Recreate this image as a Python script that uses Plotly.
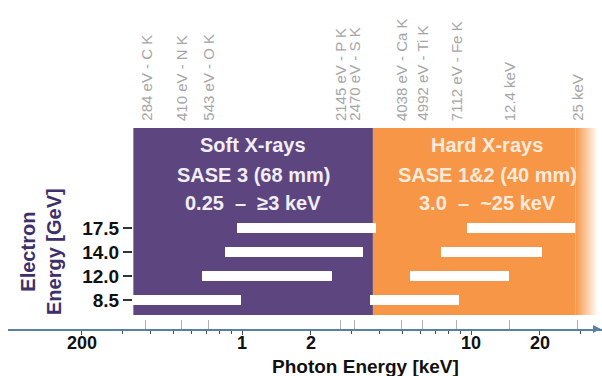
import numpy as np
import plotly.graph_objects as go

# ---------------- data ----------------
electron_energies = ["8.5", "12.0", "14.0", "17.5"]          # GeV
soft_start = [0.25, 0.51, 0.65, 0.73]                         # keV
soft_end = [0.76, 1.96, 2.7, 3.1]
hard_start = [2.9, 4.4, 6.1, 8.0]
hard_end = [7.3, 12.3, 17.3, 26.0]

soft_range = [0.25, 3.0]      # SASE 3
hard_range = [3.0, 24.5]      # SASE 1&2
hard_fade_end = 31.0

edge_labels = ["284 eV - C K", "410 eV - N K", "543 eV - O K", "2145 eV - P K",
               "2470 eV - S K", "4038 eV - Ca K", "4992 eV - Ti K", "7112 eV - Fe K",
               "12.4 keV", "25 keV"]
edge_energies = [0.284, 0.410, 0.543, 2.145, 2.470, 4.038, 4.992, 7.112, 12.4, 25.0]

bottom_tickvals = [0.2, 1, 2, 10, 20]
bottom_ticktext = ["200", "1", "2", "10", "20"]
bottom_minor = [0.3, 0.4, 0.5, 0.6, 0.7, 0.8, 0.9, 3, 4, 5, 6, 7, 8, 9, 30]

# ---------------- style ----------------
PURPLE = "#5d4680"
ORANGE = "#f79646"
AXIS = "#5a7fa3"
FONT = "Liberation Sans"

W, H = 602, 376
L, R, T, B = 8, 0, 128, 47
PW, PH = W - L - R, H - T - B
REG_BOTTOM = 0.07

fig = go.Figure()

# fading right edge of the hard X-ray band
fig.add_trace(go.Scatter(x=[hard_range[1], hard_fade_end, hard_fade_end, hard_range[1], hard_range[1]],
                         y=[REG_BOTTOM, REG_BOTTOM, 1, 1, REG_BOTTOM], yaxis="y2",
                         mode="lines", line=dict(width=0), fill="toself",
                         fillgradient=dict(type="horizontal",
                                           colorscale=[[0, ORANGE], [1, "rgba(247,150,70,0)"]]),
                         hoverinfo="skip", showlegend=False))

fig.add_trace(go.Bar(y=electron_energies, x=[e - s for s, e in zip(soft_start, soft_end)],
                     base=soft_start, orientation="h", marker=dict(color="white", line=dict(width=0)),
                     width=0.42, hoverinfo="skip", showlegend=False))
fig.add_trace(go.Bar(y=electron_energies, x=[e - s for s, e in zip(hard_start, hard_end)],
                     base=hard_start, orientation="h", marker=dict(color="white", line=dict(width=0)),
                     width=0.42, hoverinfo="skip", showlegend=False))
# invisible trace carrying the bottom (label) axis
fig.add_trace(go.Scatter(x=bottom_tickvals, y=[electron_energies[0]] * len(bottom_tickvals),
                         xaxis="x2", mode="markers", marker=dict(opacity=0),
                         hoverinfo="skip", showlegend=False))

shapes = [
    dict(type="rect", xref="x", yref="paper", x0=soft_range[0], x1=soft_range[1],
         y0=REG_BOTTOM, y1=1, fillcolor=PURPLE, line=dict(width=0), layer="below"),
    dict(type="rect", xref="x", yref="paper", x0=hard_range[0], x1=hard_range[1],
         y0=REG_BOTTOM, y1=1, fillcolor=ORANGE, line=dict(width=0), layer="below"),
]

annotations = []
for lab, e in zip(edge_labels, edge_energies):
    annotations.append(dict(x=np.log10(e), xref="x", y=1, yref="paper", yshift=5,
                            text=lab, textangle=-90, showarrow=False,
                            xanchor="center", yanchor="bottom",
                            font=dict(family=FONT, size=15, color="#a6a6a6")))

soft_txt = ["Soft X-rays", "SASE 3 (68 mm)", "0.25  \u2013  \u22653 keV"]
hard_txt = ["Hard X-rays", "SASE 1&2 (40 mm)", "3.0  \u2013  ~25 keV"]
rows_px = [145, 175, 203]
for t, py in zip(soft_txt, rows_px):
    annotations.append(dict(x=(253 - L) / PW, y=(T + PH - py) / PH, xref="paper", yref="paper",
                            xanchor="center", yanchor="middle", text="<b>%s</b>" % t,
                            showarrow=False, font=dict(family=FONT, size=20, color="#f1eef6")))
for t, py in zip(hard_txt, rows_px):
    annotations.append(dict(x=(487 - L) / PW, y=(T + PH - py) / PH, xref="paper", yref="paper",
                            xanchor="center", yanchor="middle", text="<b>%s</b>" % t,
                            showarrow=False, font=dict(family=FONT, size=20, color="#fdeadb")))

# y-axis title (two lines)
annotations.append(dict(x=(41 - L) / PW, y=(T + PH - 252) / PH, xref="paper", yref="paper",
                        xanchor="center", yanchor="middle",
                        text="<b>Electron<br>Energy [GeV]</b>", textangle=-90, showarrow=False,
                        font=dict(family=FONT, size=20, color="#3e3068")))
# x-axis title
annotations.append(dict(x=(365 - L) / PW, y=0, yshift=-37, xref="paper", yref="paper",
                        xanchor="center", yanchor="middle",
                        text="<b>Photon Energy [keV]</b>", showarrow=False,
                        font=dict(family=FONT, size=19, color="#111111")))
# arrow head at the end of the axis
annotations.append(dict(x=1, y=0, xref="paper", yref="paper", ax=-9, ay=0, text="",
                        showarrow=True, arrowhead=2, arrowsize=1, arrowwidth=1.6, arrowcolor=AXIS))

fig.update_layout(
    width=W, height=H, margin=dict(l=L, r=R, t=T, b=B),
    paper_bgcolor="white", plot_bgcolor="white",
    barmode="overlay", bargap=0,
    shapes=shapes, annotations=annotations,
    font=dict(family=FONT),
    xaxis=dict(type="log", range=[(L - 267) / 222, (W - R - 267) / 222],
               showticklabels=False, showgrid=False, zeroline=False, showline=False,
               tickmode="array", tickvals=edge_energies, ticks="inside", ticklen=9,
               tickcolor="#b0b0b0", tickwidth=1),
    xaxis2=dict(type="log", overlaying="x", side="bottom", anchor="y",
                range=[(L - 242) / 229, (W - R - 242) / 229],
                tickmode="array", tickvals=bottom_tickvals, ticktext=bottom_ticktext,
                ticks="outside", ticklen=4, tickwidth=1, tickcolor="#3b4f63",
                ticklabelstandoff=-8,
                showline=True, linecolor=AXIS, linewidth=2, showgrid=False, zeroline=False,
                tickfont=dict(family=FONT, size=18, color="#111111", weight="bold"),
                minor=dict(tickvals=bottom_minor, ticks="outside", ticklen=3, tickcolor="#3b4f63",
                           showgrid=False)),
    yaxis=dict(type="category", categoryorder="array", categoryarray=electron_energies,
               range=[(300 - (T + PH)) / 24, (300 - T) / 24], anchor="free",
               position=(132 - L) / PW, showgrid=False, zeroline=False, showline=False,
               ticks="outside", ticklen=9, tickcolor="#333333", tickwidth=1.5,
               tickfont=dict(family=FONT, size=19, color="#111111", weight="bold")),
    yaxis2=dict(overlaying="y", range=[0, 1], visible=False, showgrid=False, zeroline=False),
)

fig.write_html("out.html", config={"displayModeBar": False},
               post_script="document.body.style.margin='0';")
